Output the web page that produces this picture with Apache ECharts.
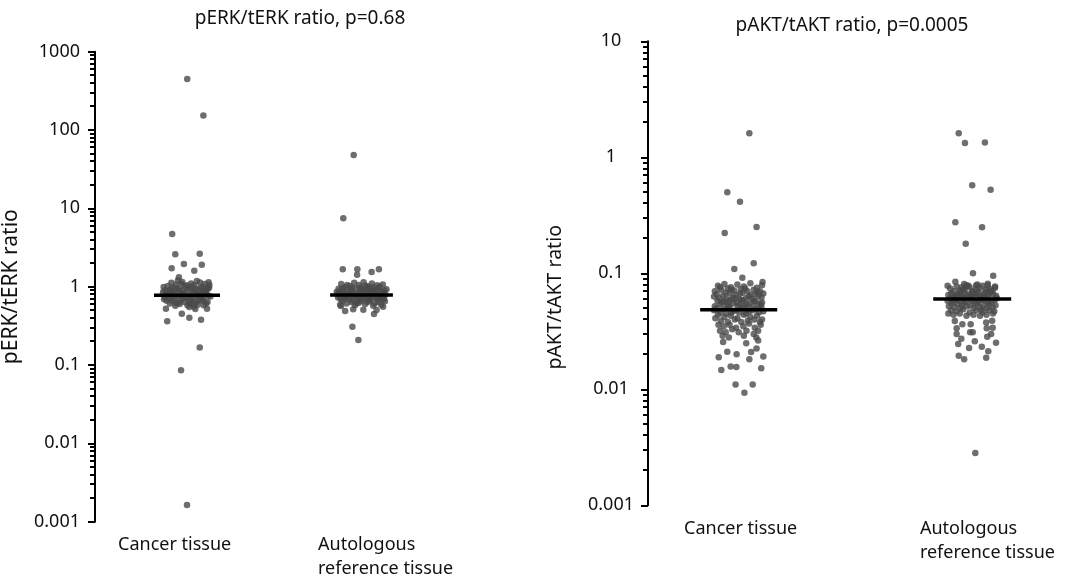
<!DOCTYPE html>
<html>
<head>
<meta charset="utf-8">
<script src="https://cdn.jsdelivr.net/npm/echarts@6/dist/echarts.min.js"></script>
<style>
  html, body { margin: 0; padding: 0; background: #fff; }
  #chart { width: 1068px; height: 576px; }
</style>
</head>
<body>
<div id="chart"></div>
<script>
// group labels (x axis)
const groups = ["Cancer tissue", "Autologous\nreference tissue"];
const groupPos = [1, 2];

// [jitter (-1..1 of cluster half-width), ratio]
const erkCancer = [
  [0.01, 449], [0.63, 153], [-0.57, 4.71], [-0.45, 2.59], [0.49, 2.64], [-0.12, 1.95], [0.57, 1.91],
  [-0.59, 1.72], [0.28, 1.6], [-0.31, 1.32], [0.83, 1.14], [-0.81, 0.524], [-0.76, 0.361], [-0.2, 0.452],
  [0.09, 0.402], [0.54, 0.379], [0.32, 0.519], [0.77, 0.524], [0.09, 0.55], [0.49, 0.168], [-0.23, 0.086],
  [0.0, 0.00163],
  [-0.62, 0.93], [-0.31, 0.88], [0.05, 0.97], [0.44, 0.91], [0.71, 0.86], [-0.8, 0.79], [-0.5, 0.83],
  [-0.12, 0.81], [0.22, 0.84], [0.58, 0.8], [0.83, 0.77], [-0.7, 0.72], [-0.38, 0.75], [-0.02, 0.74],
  [0.3, 0.71], [0.66, 0.73], [-0.88, 0.69], [-0.57, 0.66], [-0.21, 0.68], [0.14, 0.65], [0.47, 0.67],
  [0.79, 0.64], [-0.66, 0.61], [-0.28, 0.6], [0.09, 0.62], [0.41, 0.59], [0.73, 0.61], [-0.45, 0.57],
  [0.26, 0.56], [-0.74, 1.02], [-0.42, 1.06], [-0.08, 1.01], [0.27, 1.04], [0.6, 1.0], [0.86, 1.05],
  [-0.6, 1.12], [-0.18, 1.15], [0.16, 1.1], [0.5, 1.13], [-0.35, 1.2], [0.38, 1.18], [-0.84, 0.9],
  [-0.15, 0.9], [0.34, 0.95], [0.8, 0.94], [-0.55, 0.98], [0.62, 0.88], [-0.25, 0.78], [0.1, 0.77],
  [0.48, 0.76], [-0.65, 0.82], [0.72, 0.82], [-0.05, 0.85], [-0.92, 0.85], [0.9, 0.75], [-0.48, 0.7],
  [0.2, 0.73], [0.55, 0.7], [-0.78, 0.66], [-0.1, 0.64], [0.35, 0.63], [0.64, 0.58], [-0.33, 0.63],
  [0.02, 0.58], [-0.6, 0.76], [0.12, 0.92], [-0.4, 0.96], [0.42, 0.82], [0.68, 1.08], [-0.22, 1.08],
  [0.28, 0.87], [-0.7, 0.88], [0.85, 0.97], [0.0, 1.04], [-0.9, 0.99], [0.53, 0.97], [-0.3, 0.92],
  [0.18, 1.0], [-0.52, 0.87], [0.74, 0.91], [-0.15, 0.71], [0.4, 0.78], [-0.85, 0.74], [0.06, 0.69],
  [0.6, 0.66], [-0.42, 0.62], [0.25, 0.6]
];
const erkAuto = [
  [-0.3, 48], [-0.7, 7.5], [-0.72, 1.67], [-0.16, 1.67], [-0.17, 1.42], [0.39, 1.54], [0.67, 1.67],
  [-0.35, 0.308], [-0.12, 0.209], [-0.63, 0.49], [0.07, 0.508], [0.48, 0.448], [0.58, 0.504],
  [0.83, 0.555], [-0.79, 0.567], [-0.32, 0.514],
  [-0.75, 0.95], [-0.4, 0.9], [-0.05, 0.98], [0.3, 0.93], [0.65, 0.96], [0.88, 0.9], [-0.85, 0.84],
  [-0.55, 0.86], [-0.2, 0.82], [0.15, 0.85], [0.48, 0.83], [0.78, 0.81], [-0.68, 0.77], [-0.33, 0.79],
  [0.02, 0.76], [0.36, 0.78], [0.7, 0.75], [-0.9, 0.73], [-0.5, 0.71], [-0.14, 0.73], [0.22, 0.7],
  [0.56, 0.72], [0.86, 0.69], [-0.72, 0.66], [-0.36, 0.67], [0.0, 0.65], [0.33, 0.66], [0.66, 0.64],
  [-0.58, 0.61], [-0.2, 0.62], [0.14, 0.6], [0.5, 0.61], [-0.82, 0.59], [0.76, 0.59], [-0.45, 1.02],
  [-0.1, 1.05], [0.25, 1.01], [0.6, 1.04], [-0.78, 1.08], [0.82, 1.07], [-0.28, 1.12], [0.4, 1.1],
  [0.08, 1.14], [-0.62, 0.99], [0.46, 0.98], [-0.22, 0.94], [0.12, 0.91], [0.74, 0.87], [-0.48, 0.8],
  [0.28, 0.8], [-0.05, 0.88], [0.58, 0.78], [-0.92, 0.8], [0.92, 0.79], [-0.3, 0.74], [0.42, 0.74],
  [-0.62, 0.71], [0.1, 0.71], [0.8, 0.72], [-0.4, 0.64], [0.24, 0.64], [0.9, 0.65], [-0.1, 0.68],
  [0.62, 0.68], [-0.8, 0.69], [0.38, 0.86], [-0.68, 0.89], [0.2, 0.96], [-0.35, 0.97], [0.7, 1.0],
  [-0.88, 0.94], [0.52, 0.9], [-0.15, 0.78], [0.05, 0.83], [-0.58, 0.75], [0.84, 0.84], [0.32, 0.69],
  [-0.25, 0.58], [0.45, 0.57], [-0.95, 0.86], [0.96, 0.93], [0.15, 1.03], [-0.55, 1.05], [0.68, 0.77],
  [-0.12, 0.62], [0.18, 0.75], [-0.42, 0.85], [0.55, 0.87], [-0.7, 0.81], [0.35, 0.96], [-0.02, 0.93]
];
const aktCancer = [
  [0.41, 1.61], [-0.44, 0.5], [0.05, 0.414], [-0.54, 0.222], [0.69, 0.251], [-0.17, 0.109], [0.58, 0.122],
  [0.14, 0.0917], [0.92, 0.0841],
  [-0.6, 0.0256], [0.29, 0.0249], [0.75, 0.0263], [-0.44, 0.0211], [0.48, 0.021], [0.69, 0.0225],
  [-0.08, 0.0201], [-0.77, 0.0189], [0.95, 0.0192], [0.41, 0.0182], [-0.31, 0.0157], [-0.09, 0.0156],
  [-0.67, 0.0147], [0.87, 0.0152], [-0.12, 0.011], [0.54, 0.011], [0.22, 0.00935],
  [-0.8, 0.078], [-0.55, 0.081], [-0.3, 0.076], [-0.05, 0.08], [0.2, 0.077], [0.45, 0.082], [0.7, 0.075],
  [0.9, 0.079], [-0.68, 0.072], [-0.42, 0.074], [-0.18, 0.071], [0.08, 0.073], [0.33, 0.07], [0.58, 0.072],
  [0.82, 0.07], [-0.92, 0.07],
  [-0.85, 0.066], [-0.6, 0.064], [-0.35, 0.067], [-0.1, 0.065], [0.15, 0.068], [0.4, 0.063], [0.65, 0.066],
  [0.88, 0.062], [-0.75, 0.061], [-0.48, 0.06], [-0.22, 0.062], [0.03, 0.06], [0.28, 0.061], [0.52, 0.06],
  [0.76, 0.064], [-0.95, 0.063], [0.95, 0.067],
  [-0.82, 0.058], [-0.58, 0.057], [-0.32, 0.059], [-0.08, 0.056], [0.18, 0.058], [0.42, 0.055], [0.66, 0.057],
  [0.9, 0.056], [-0.7, 0.054], [-0.45, 0.053], [-0.2, 0.055], [0.05, 0.053], [0.3, 0.054], [0.55, 0.052],
  [0.78, 0.053], [-0.92, 0.052], [0.1, 0.059], [-0.38, 0.057],
  [-0.85, 0.05], [-0.6, 0.049], [-0.35, 0.051], [-0.1, 0.048], [0.15, 0.05], [0.4, 0.047], [0.65, 0.049],
  [0.88, 0.051], [-0.72, 0.046], [-0.48, 0.045], [-0.22, 0.047], [0.02, 0.046], [0.28, 0.045], [0.52, 0.048],
  [0.78, 0.046], [-0.95, 0.048], [0.95, 0.047],
  [-0.8, 0.044], [-0.55, 0.042], [-0.3, 0.043], [-0.05, 0.041], [0.2, 0.044], [0.45, 0.042], [0.7, 0.043],
  [0.9, 0.04], [-0.68, 0.039], [-0.42, 0.038], [-0.15, 0.04], [0.1, 0.038], [0.35, 0.039], [0.6, 0.04],
  [0.82, 0.038], [-0.9, 0.041],
  [-0.78, 0.036], [-0.58, 0.035], [-0.35, 0.036], [-0.1, 0.034], [0.18, 0.035], [0.4, 0.037], [0.62, 0.034],
  [0.85, 0.036], [-0.72, 0.032], [-0.5, 0.031], [-0.25, 0.033], [0.0, 0.031], [0.3, 0.032], [0.58, 0.03],
  [0.75, 0.032], [-0.62, 0.029], [0.2, 0.029], [0.68, 0.028], [-0.38, 0.028],
  [-0.4, 0.052], [0.22, 0.052], [-0.65, 0.056], [0.6, 0.058], [-0.15, 0.061], [0.45, 0.065], [-0.5, 0.068],
  [0.72, 0.069], [-0.28, 0.072], [0.25, 0.074], [-0.72, 0.076], [0.05, 0.067], [-0.02, 0.052], [0.35, 0.049],
  [-0.3, 0.046], [0.85, 0.054]
];
const aktAuto = [
  [-0.52, 1.61], [-0.28, 1.33], [0.49, 1.34], [0.0, 0.574], [0.71, 0.526], [-0.65, 0.275], [0.38, 0.249],
  [-0.25, 0.18], [0.03, 0.1], [0.81, 0.0953], [-0.65, 0.0847], [0.6, 0.0813], [-0.31, 0.081], [0.15, 0.0785],
  [0.88, 0.077],
  [-0.67, 0.0388], [-0.38, 0.0363], [-0.06, 0.0363], [0.54, 0.0376], [0.77, 0.039], [-0.6, 0.0336],
  [0.56, 0.0336], [0.79, 0.034], [-0.6, 0.03], [-0.08, 0.031], [0.02, 0.031], [0.73, 0.03], [0.58, 0.0284],
  [-0.42, 0.0273], [0.1, 0.0259], [0.92, 0.0252], [-0.54, 0.0246], [-0.12, 0.0227], [0.37, 0.0233],
  [0.62, 0.0213], [-0.52, 0.0195], [-0.31, 0.0182], [0.54, 0.0187], [0.12, 0.00282],
  [-0.85, 0.074], [-0.6, 0.077], [-0.35, 0.072], [-0.1, 0.076], [0.15, 0.073], [0.4, 0.078], [0.65, 0.071],
  [0.88, 0.075], [-0.72, 0.07], [-0.48, 0.071], [-0.22, 0.079], [0.02, 0.07], [0.28, 0.075], [0.52, 0.072],
  [0.78, 0.07], [-0.95, 0.078], [0.2, 0.08], [-0.4, 0.076],
  [-0.8, 0.067], [-0.56, 0.065], [-0.3, 0.068], [-0.06, 0.064], [0.2, 0.067], [0.44, 0.065], [0.68, 0.068],
  [0.92, 0.064], [-0.68, 0.063], [-0.42, 0.066], [-0.18, 0.063], [0.08, 0.066], [0.32, 0.063], [0.58, 0.064],
  [0.8, 0.066], [-0.92, 0.065], [0.0, 0.069], [0.5, 0.069],
  [-0.85, 0.061], [-0.62, 0.059], [-0.38, 0.062], [-0.12, 0.06], [0.12, 0.062], [0.38, 0.059], [0.62, 0.061],
  [0.86, 0.059], [-0.74, 0.057], [-0.5, 0.058], [-0.25, 0.057], [0.0, 0.058], [0.25, 0.057], [0.5, 0.058],
  [0.74, 0.057], [-0.95, 0.058], [0.95, 0.061], [-0.05, 0.061],
  [-0.8, 0.055], [-0.56, 0.054], [-0.32, 0.056], [-0.08, 0.053], [0.18, 0.055], [0.42, 0.052], [0.66, 0.054],
  [0.9, 0.053], [-0.68, 0.051], [-0.44, 0.05], [-0.2, 0.052], [0.06, 0.05], [0.3, 0.051], [0.55, 0.05],
  [0.78, 0.051], [-0.9, 0.052],
  [-0.82, 0.048], [-0.6, 0.047], [-0.35, 0.049], [-0.1, 0.046], [0.15, 0.048], [0.4, 0.046], [0.65, 0.048],
  [0.85, 0.047], [-0.72, 0.044], [-0.48, 0.045], [-0.22, 0.043], [0.05, 0.044], [0.3, 0.043], [0.55, 0.044],
  [0.8, 0.045], [-0.92, 0.045],
  [-0.3, 0.06], [0.3, 0.06], [-0.6, 0.063], [0.6, 0.056], [-0.15, 0.066], [0.45, 0.062], [-0.5, 0.068],
  [0.72, 0.073], [-0.28, 0.074], [0.25, 0.069], [-0.75, 0.06], [0.1, 0.055], [-0.4, 0.053], [0.35, 0.048],
  [-0.15, 0.078], [0.6, 0.079]
];

const erkMedians = [0.777, 0.784];
const aktMedians = [0.0486, 0.06];

const erkRange = [0.001, 1000];
const aktRange = [0.001, 10];
const minorSteps = [2, 3, 4, 5, 6, 7, 8, 9];

const FONT = "Noto Sans";
const DOT = "#4a4a4a";

// 每个十倍区间内 2..9 的小刻度值
function 小刻度(range) {
  const out = [];
  for (let d = range[0]; d < range[1] * 0.99; d *= 10) {
    minorSteps.forEach((m) => out.push(Number((d * m).toPrecision(4))));
  }
  return out;
}

function 刻度文字(v) {
  return String(Number(v.toPrecision(4)));
}

function 主轴(grid, range, labelOpt, name, nameOpt) {
  return {
    type: "log",
    logBase: 10,
    gridIndex: grid,
    min: range[0],
    max: range[1],
    splitNumber: Math.round(Math.log10(range[1] / range[0])),
    axisLine: { show: true, lineStyle: { color: "#000", width: 2 } },
    axisTick: { show: true, length: 7, lineStyle: { color: "#000", width: 2 } },
    splitLine: { show: false },
    axisLabel: Object.assign(
      { color: "#111", fontFamily: FONT, fontSize: 18, formatter: 刻度文字 },
      labelOpt
    ),
    name: name,
    nameLocation: "middle",
    nameGap: nameOpt.gap,
    nameTextStyle: Object.assign({ color: "#111", fontFamily: FONT }, nameOpt.style)
  };
}

function 横轴(grid, min, max, labelPos, margin) {
  return {
    type: "value",
    gridIndex: grid,
    min: min,
    max: max,
    axisLine: { show: false },
    axisTick: { show: false },
    splitLine: { show: false },
    axisLabel: {
      show: true,
      customValues: labelPos,
      align: "left",
      verticalAlign: "top",
      margin: margin,
      lineHeight: 24,
      color: "#111",
      fontFamily: FONT,
      fontSize: 18,
      formatter: (v) => {
        let best = 0;
        labelPos.forEach((p, i) => {
          if (Math.abs(p - v) < Math.abs(labelPos[best] - v)) best = i;
        });
        return groups[best];
      }
    }
  };
}

function 点列(pairs, center, spread, xi, yi) {
  return {
    type: "scatter",
    xAxisIndex: xi,
    yAxisIndex: yi,
    symbol: "circle",
    symbolSize: 6.5,
    itemStyle: { color: DOT },
    silent: true,
    data: pairs.map((p) => [center + p[0] * spread, p[1]])
  };
}

function 中位线(m, center, half, xi, yi) {
  return {
    type: "line",
    xAxisIndex: xi,
    yAxisIndex: yi,
    symbol: "none",
    silent: true,
    z: 5,
    lineStyle: { color: "#000", width: 3.5 },
    data: [[center - half, m], [center + half, m]]
  };
}

const erkX = [0.4728, 2.6];
const aktX = [0.6116, 2.4];

const myChart = echarts.init(document.getElementById("chart"), null, { renderer: "canvas" });

const option = {
  animation: false,
  backgroundColor: "#fff",
  title: [
    {
      text: "pERK/tERK ratio, p=0.68",
      left: 300,
      top: 9,
      padding: 0,
      textAlign: "center",
      textStyle: { fontFamily: FONT, fontSize: 19, fontWeight: "normal", color: "#111" }
    },
    {
      text: "pAKT/tAKT ratio, p=0.0005",
      left: 852,
      top: 16,
      padding: 0,
      textAlign: "center",
      textStyle: { fontFamily: FONT, fontSize: 19, fontWeight: "normal", color: "#111" }
    }
  ],
  grid: [
    { left: 95, top: 51.7, right: 601.8, bottom: 54.3, containLabel: false, outerBoundsMode: "none" },
    { left: 648, top: 41.3, right: 2.4, bottom: 70.7, containLabel: false, outerBoundsMode: "none" }
  ],
  xAxis: [
    横轴(0, erkX[0], erkX[1], [0.605, 1.751], 11),
    横轴(1, aktX[0], aktX[1], [0.766, 1.776], 12)
  ],
  yAxis: [
    主轴(0, erkRange, { margin: 15, align: "right" }, "pERK/tERK ratio",
      { gap: 73, style: { fontSize: 21 } }),
    主轴(1, aktRange, { margin: 37, align: "center" }, "pAKT/tAKT ratio",
      { gap: 83, style: { fontSize: 19.5, padding: [0, 48, 0, 0] } })
  ],
  series: [
    点列(erkCancer, groupPos[0], 0.149, 0, 0),
    点列(erkAuto, groupPos[1], 0.149, 0, 0),
    中位线(erkMedians[0], groupPos[0], 0.189, 0, 0),
    中位线(erkMedians[1], groupPos[1], 0.18, 0, 0),
    点列(aktCancer, groupPos[0], 0.111, 1, 1),
    点列(aktAuto, groupPos[1], 0.111, 1, 1),
    中位线(aktMedians[0], groupPos[0], 0.165, 1, 1),
    中位线(aktMedians[1], groupPos[1], 0.167, 1, 1)
  ]
};

myChart.setOption(option);

// 对数轴的小刻度：借所在系列换算到像素后画在轴线外侧
function 画小刻度() {
  const 图形 = [];
  [[0, erkRange, erkX[0]], [4, aktRange, aktX[0]]].forEach(([si, range, xMin]) => {
    小刻度(range).forEach((v) => {
      const p = myChart.convertToPixel({ seriesIndex: si }, [xMin, v]);
      if (!p || !isFinite(p[0]) || !isFinite(p[1])) return;
      const y = Math.round(p[1]);
      图形.push({
        type: "line",
        silent: true,
        z: 100,
        shape: { x1: p[0] - 5, y1: y, x2: p[0] + 1, y2: y },
        style: { stroke: "#000", lineWidth: 2 }
      });
    });
  });
  myChart.setOption({ graphic: { elements: 图形 } });
}
画小刻度();
</script>
</body>
</html>
